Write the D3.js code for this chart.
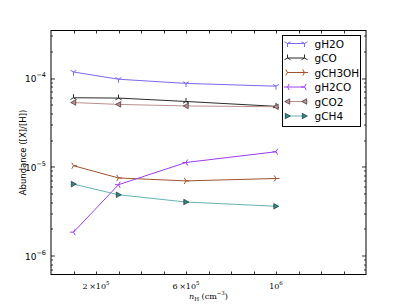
<!DOCTYPE html>
<html>
<head>
<meta charset="utf-8">
<script src="https://cdn.jsdelivr.net/npm/d3@7"></script>
<style>
  body { margin: 0; background: #fff; }
  svg { display: block; }
  text { font-family: "DejaVu Sans", sans-serif; fill: #000; }
  .serif { font-family: "DejaVu Serif", "Liberation Serif", serif; }
</style>
</head>
<body>
<div id="chart"></div>
<script>
        // density points (cm^-3)
        var densities = [1e5, 3e5, 6e5, 1e6];

        var gH2O = [1.17e-4, 0.97e-4, 0.87e-4, 0.81e-4];
        var gCO = [6.0e-5, 5.95e-5, 5.45e-5, 4.8e-5];
        var gCH3OH = [1.03e-5, 7.5e-6, 6.95e-6, 7.4e-6];
        var gH2CO = [1.84e-6, 6.3e-6, 1.12e-5, 1.48e-5];
        var gCO2 = [5.3e-5, 5.05e-5, 4.85e-5, 4.75e-5];
        var gCH4 = [6.4e-6, 4.85e-6, 4.02e-6, 3.6e-6];

        var seriesNames = ["gH2O", "gCO", "gCH3OH", "gH2CO", "gCO2", "gCH4"];
        var seriesValues = [gH2O, gCO, gCH3OH, gH2CO, gCO2, gCH4];

        var xLabelTicks = [2e5, 6e5, 1e6];
        var yDecades = [-6, -5, -4];

        var styles = {
            gH2O:   { color: "#7b68ee", marker: "tri_down" },
            gCO:    { color: "#2b2b2b", marker: "tri_up" },
            gCH3OH: { color: "#a0522d", marker: "tri_right" },
            gH2CO:  { color: "#9b3cf5", marker: "tri_left" },
            gCO2:   { color: "#bc8f8f", marker: "tri_fill_left" },
            gCH4:   { color: "#66b2b2", fill: "#2f8a8a", marker: "tri_fill_right" }
        };

        var width = 407, height = 305;
        var margin = { left: 51, right: 41, top: 30.5, bottom: 30.5 };
        var w = width - margin.left - margin.right;
        var h = height - margin.top - margin.bottom;

        var svg = d3.select("#chart").append("svg")
            .attr("width", width)
            .attr("height", height);

        var g = svg.append("g")
            .attr("transform", "translate(" + margin.left + "," + margin.top + ")");

        var x = d3.scaleLinear().domain([0, 1.4e6]).range([0, w]);
        var y = d3.scaleLog().domain([6.14e-7, 3.43e-4]).range([h, 0]);

        // ticks (inward, all four sides)
        var axisG = g.append("g").attr("stroke", "#000").attr("stroke-width", 0.8);
        d3.range(1, 14).forEach(function (i) {
            var px = Math.round(x(i * 1e5)) + 0.5;
            axisG.append("line").attr("x1", px).attr("x2", px).attr("y1", h).attr("y2", h - 3);
            axisG.append("line").attr("x1", px).attr("x2", px).attr("y1", 0).attr("y2", 3);
        });
        d3.range(-7, -3).forEach(function (e) {
            for (var m = 1; m < 10; m++) {
                var v = m * Math.pow(10, e);
                if (v < y.domain()[0] || v > y.domain()[1]) continue;
                var py = Math.round(y(v)) + 0.5;
                var len = m === 1 ? 4 : 2;
                axisG.append("line").attr("x1", 0).attr("x2", len).attr("y1", py).attr("y2", py);
                axisG.append("line").attr("x1", w).attr("x2", w - len).attr("y1", py).attr("y2", py);
            }
        });

        // tick labels
        xLabelTicks.forEach(function (v) {
            var t = g.append("text")
                .attr("class", "serif")
                .attr("x", x(v))
                .attr("y", h + 14)
                .attr("text-anchor", "middle")
                .style("font-size", "8px");
            var ex = Math.floor(Math.log10(v) + 1e-9);
            var mant = Math.round(v / Math.pow(10, ex));
            if (mant !== 1) t.append("tspan").text(mant + "\u2009\u00d7");
            t.append("tspan").text("10");
            t.append("tspan").attr("dy", -4).style("font-size", "5.5px").text(ex);
        });
        yDecades.forEach(function (e) {
            var t = g.append("text")
                .attr("x", -5)
                .attr("y", y(Math.pow(10, e)) + 4)
                .attr("text-anchor", "end")
                .style("font-size", "9px");
            t.append("tspan").text("10");
            t.append("tspan").attr("dy", -5).style("font-size", "6.5px").text("\u2212" + (-e));
        });

        // axis labels
        svg.append("text")
            .attr("transform", "translate(26," + (margin.top + h / 2) + ") rotate(-90)")
            .attr("text-anchor", "middle")
            .style("font-size", "8.5px")
            .text("Abundance ([X]/[H])");

        var xl = svg.append("text")
            .attr("class", "serif")
            .attr("x", margin.left + w / 2)
            .attr("y", 299)
            .attr("text-anchor", "middle")
            .style("font-size", "8px");
        xl.append("tspan").style("font-style", "italic").text("n");
        xl.append("tspan").attr("dy", 2).style("font-size", "5.5px").text("H");
        xl.append("tspan").attr("dy", -2).text(" (cm");
        xl.append("tspan").attr("dy", -4).style("font-size", "5.5px").text("\u22123");
        xl.append("tspan").attr("dy", 4).text(")");

        function drawMarker(sel, kind, st) {
            var r = 3.5;
            var arms = null;
            if (kind === "tri_down") arms = [[0, r], [-r * 0.87, -r * 0.5], [r * 0.87, -r * 0.5]];
            if (kind === "tri_up") arms = [[0, -r], [-r * 0.87, r * 0.5], [r * 0.87, r * 0.5]];
            if (kind === "tri_left") arms = [[-r, 0], [r * 0.5, -r * 0.87], [r * 0.5, r * 0.87]];
            if (kind === "tri_right") arms = [[r, 0], [-r * 0.5, -r * 0.87], [-r * 0.5, r * 0.87]];
            if (arms) {
                arms.forEach(function (a) {
                    sel.append("line").attr("x1", 0).attr("y1", 0).attr("x2", a[0]).attr("y2", a[1])
                        .attr("stroke", st.color).attr("stroke-width", 1);
                });
                return;
            }
            var s = 2.8;
            var pts = kind === "tri_fill_left"
                ? [[-s, 0], [s * 0.8, -s], [s * 0.8, s]]
                : [[s, 0], [-s * 0.8, -s], [-s * 0.8, s]];
            sel.append("path")
                .attr("d", "M" + pts.map(function (p) { return p.join(","); }).join("L") + "Z")
                .attr("fill", st.fill || st.color)
                .attr("stroke", "#000")
                .attr("stroke-width", 0.5);
        }

        var line = d3.line()
            .x(function (d) { return x(d[0]); })
            .y(function (d) { return y(d[1]); });

        var plot = g.append("g");
        seriesNames.forEach(function (name, i) {
            var st = styles[name];
            var pts = densities.map(function (d, j) { return [d, seriesValues[i][j]]; });
            plot.append("path")
                .datum(pts)
                .attr("d", line)
                .attr("fill", "none")
                .attr("stroke", st.color)
                .attr("stroke-width", 1);
            pts.forEach(function (p) {
                var m = plot.append("g").attr("transform", "translate(" + x(p[0]) + "," + y(p[1]) + ")");
                drawMarker(m, st.marker, st);
            });
        });

        // frame
        g.append("rect")
            .attr("width", w).attr("height", h)
            .attr("fill", "none").attr("stroke", "#000").attr("stroke-width", 1);

        // legend
        var lg = svg.append("g").attr("transform", "translate(282.5,35.5)");
        lg.append("rect").attr("width", 78).attr("height", 91)
            .attr("fill", "#fff").attr("stroke", "#000").attr("stroke-width", 1);
        seriesNames.forEach(function (name, i) {
            var st = styles[name];
            var yy = 8 + i * 14.5;
            lg.append("line").attr("x1", 5).attr("x2", 22).attr("y1", yy).attr("y2", yy)
                .attr("stroke", st.color).attr("stroke-width", 1);
            [5, 22].forEach(function (xx) {
                drawMarker(lg.append("g").attr("transform", "translate(" + xx + "," + yy + ")"), st.marker, st);
            });
            lg.append("text").attr("x", 32).attr("y", yy + 4)
                .style("font-size", "10.5px").text(name);
        });
</script>
</body>
</html>
